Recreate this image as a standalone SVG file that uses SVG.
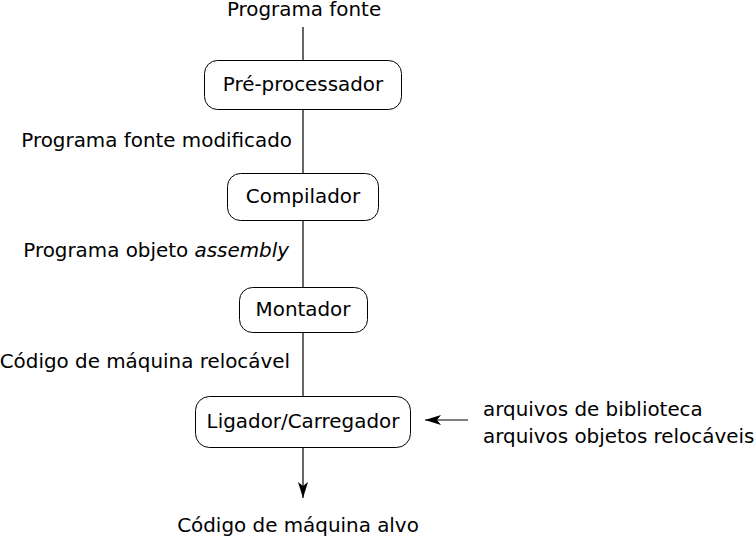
<svg xmlns="http://www.w3.org/2000/svg" width="754" height="536" viewBox="0 0 754 536">
<defs>
<marker id="ah" viewBox="0 0 16 10" refX="16" refY="5" markerWidth="16" markerHeight="10" markerUnits="userSpaceOnUse" orient="auto">
<path d="M0,0 L16,5 L0,10 L4,5 Z" fill="#000"/>
</marker>
</defs>
<style>
text{font-family:"DejaVu Sans",sans-serif;font-size:19.9px;fill:#000}
.box{fill:#fff;stroke:#000;stroke-width:1}
.ln{stroke:#000;stroke-width:1.2;fill:none}
.c{text-anchor:middle}
.r{text-anchor:end}
</style>
<g id="connectors">
<line class="ln" x1="303" y1="27" x2="303" y2="60"/>
<line class="ln" x1="303" y1="109" x2="303" y2="173"/>
<line class="ln" x1="303" y1="221" x2="303" y2="287"/>
<line class="ln" x1="303" y1="332" x2="303" y2="396"/>
<line class="ln" x1="303" y1="447" x2="303" y2="498" marker-end="url(#ah)"/>
<line class="ln" x1="468" y1="420" x2="425" y2="420" marker-end="url(#ah)"/>
</g>
<g id="label-fonte"><text class="c" x="304" y="16">Programa fonte</text></g>
<g id="node-pre"><rect class="box" x="204.5" y="60.5" width="197" height="49" rx="13"/><text class="c" x="303" y="91">Pré-processador</text></g>
<g id="label-mod"><text class="r" x="292" y="147">Programa fonte modificado</text></g>
<g id="node-comp"><rect class="box" x="227.5" y="173.5" width="151" height="47" rx="13"/><text class="c" x="303" y="203">Compilador</text></g>
<g id="label-asm"><text class="r" x="289" y="257">Programa objeto <tspan font-style="italic">assembly</tspan></text></g>
<g id="node-mont"><rect class="box" x="239.5" y="287.5" width="128" height="45" rx="13"/><text class="c" x="303" y="316">Montador</text></g>
<g id="label-reloc"><text class="r" x="290" y="368">Código de máquina relocável</text></g>
<g id="node-lig"><rect class="box" x="195.5" y="396.5" width="215" height="51" rx="14"/><text class="c" x="303" y="428">Ligador/Carregador</text></g>
<g id="label-libs"><text x="483" y="416">arquivos de biblioteca</text><text x="483" y="443">arquivos objetos relocáveis</text></g>
<g id="label-alvo"><text class="c" x="298" y="532">Código de máquina alvo</text></g>
</svg>
